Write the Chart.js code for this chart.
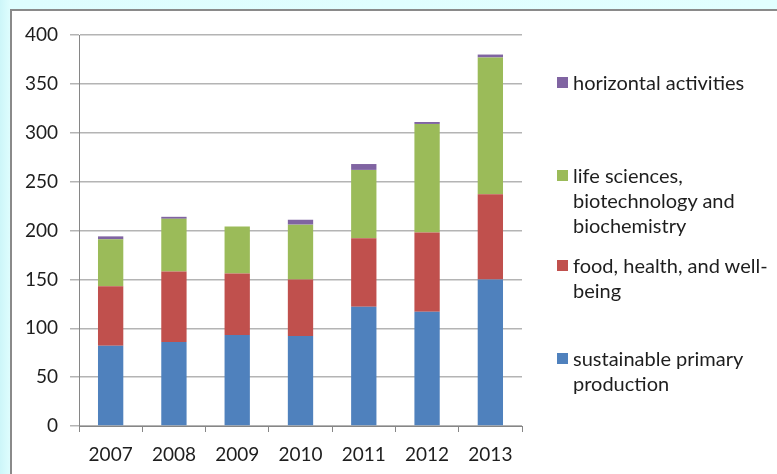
<!DOCTYPE html>
<html>
<head>
<meta charset="utf-8">
<script src="https://cdn.jsdelivr.net/npm/chart.js@4.4.1/dist/chart.umd.min.js"></script>
<style>
  html, body {
    margin: 0;
    padding: 0;
    width: 777px;
    height: 474px;
    overflow: hidden;
    background: linear-gradient(to right, #cdf6f9 0px, #defdfe 10px, #e2ffff 100%);
    font-family: Lato, "Open Sans", sans-serif;
  }
  #box {
    position: absolute;
    left: 10px;
    top: 9px;
    width: 800px;
    height: 500px;
    background: #fff;
    border: 2px solid #8a8a8a;
  }
  #chart {
    position: absolute;
    left: 0;
    top: 0;
  }
  #legend {
    position: absolute;
    left: 0;
    top: 0;
  }
  .item {
    position: absolute;
    left: 573px;
    width: 198px;
    font-size: 20px;
    line-height: 25px;
    color: #1e1e1e;
  }
  .item span.sw {
    position: absolute;
    left: -16px;
    top: 7px;
    width: 11px;
    height: 11px;
  }
</style>
</head>
<body>
<div id="box"></div>
<canvas id="chart" width="777" height="474"></canvas>
<div id="legend"></div>
<script>
const years = ['2007', '2008', '2009', '2010', '2011', '2012', '2013'];

const primaryProduction = [82, 86, 93, 92, 122, 117, 150];
const foodHealth = [61, 72, 63, 58, 70, 81, 87];
const lifeSciences = [48, 54, 48, 56, 70, 111, 140];
const horizontal = [3, 2, 0, 5, 6, 2, 3];

const seriesLabels = [
  'sustainable primary production',
  'food, health, and well-being',
  'life sciences, biotechnology and biochemistry',
  'horizontal activities',
];
const seriesColors = ['#4f81bd', '#c0504d', '#9bbb59', '#8064a2'];

const yTicks = [0, 50, 100, 150, 200, 250, 300, 350, 400];

// legend first-line tops (excel spreads the entries out)
const legendTops = [346, 253, 163, 70];

const datasets = [primaryProduction, foodHealth, lifeSciences, horizontal].map((data, i) => {
  return {
    label: seriesLabels[i],
    data,
    backgroundColor: seriesColors[i],
    borderWidth: 0,
    barPercentage: 0.4,
    categoryPercentage: 1,
  };
});

const ctx = document.getElementById('chart').getContext('2d');

new Chart(ctx, {
  type: 'bar',
  data: {
    labels: years,
    datasets,
  },
  options: {
    responsive: false,
    animation: false,
    layout: {
      padding: { left: 0, right: 255, top: 35, bottom: 0 },
    },
    plugins: {
      legend: { display: false },
      tooltip: { enabled: false },
    },
    scales: {
      x: {
        stacked: true,
        afterFit: (scale) => { scale.height = 48; },
        grid: {
          drawOnChartArea: false,
          offset: true,
          tickLength: 6,
          color: '#868686',
          lineWidth: 1,
        },
        border: { color: '#868686', width: 1 },
        ticks: {
          padding: 11,
          color: '#1e1e1e',
          font: { family: 'Lato, "Open Sans", sans-serif', size: 19 },
        },
      },
      y: {
        stacked: true,
        min: 0,
        max: 400,
        afterFit: (scale) => { scale.width = 79; },
        afterBuildTicks: (scale) => {
          scale.ticks = yTicks.map((v) => ({ value: v }));
        },
        grid: {
          color: '#b4b4b4',
          lineWidth: 1.5,
          tickLength: 9,
        },
        border: { color: '#868686', width: 1 },
        ticks: {
          padding: 12,
          color: '#1e1e1e',
          font: { family: 'Lato, "Open Sans", sans-serif', size: 19 },
        },
      },
    },
  },
});

// html legend, top entry is the top of the stack
const legend = document.getElementById('legend');
seriesLabels.forEach((label, i) => {
  const item = document.createElement('div');
  item.className = 'item';
  item.style.top = `${legendTops[i]}px`;
  const sw = document.createElement('span');
  sw.className = 'sw';
  sw.style.background = seriesColors[i];
  item.appendChild(sw);
  item.appendChild(document.createTextNode(label));
  legend.appendChild(item);
});
</script>
</body>
</html>
